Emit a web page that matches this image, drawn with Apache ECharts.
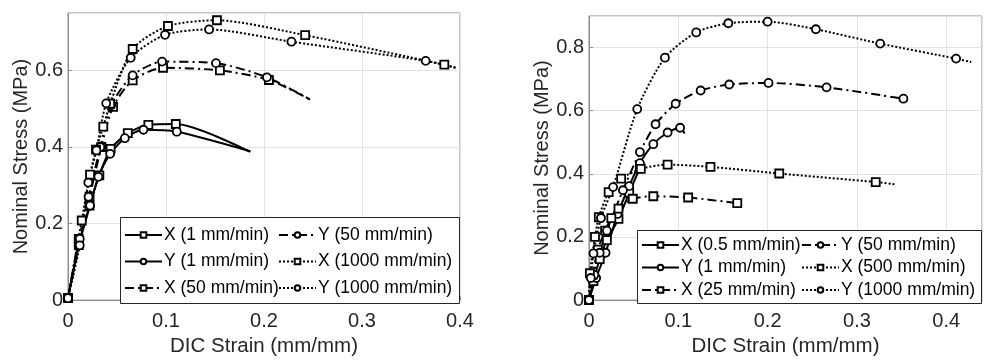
<!DOCTYPE html>
<html>
<head>
<meta charset="utf-8">
<script src="https://cdn.jsdelivr.net/npm/echarts@6/dist/echarts.min.js"></script>
<style>
html,body{margin:0;padding:0;background:#fff;}
#c{width:989px;height:362px;}
</style>
</head>
<body>
<div id="c"></div>
<script>
// ---------- Data (strain mm/mm, stress MPa) ----------
// Left panel
const leftNames = ['X (1 mm/min)', 'Y (1 mm/min)', 'X (50 mm/min)', 'Y (50 mm/min)', 'X (1000 mm/min)', 'Y (1000 mm/min)'];
const leftX1 = [[0,0.005],[0.011,0.144],[0.022,0.247],[0.032,0.326],[0.0435,0.395],[0.061,0.436],[0.082,0.458],[0.110,0.460],[0.186,0.387]];
const leftY1 = [[0,0.005],[0.011,0.143],[0.0225,0.247],[0.031,0.322],[0.043,0.382],[0.058,0.423],[0.077,0.445],[0.111,0.440],[0.186,0.389]];
const leftX50 = [[0,0.005],[0.011,0.16],[0.022,0.27],[0.034,0.40],[0.046,0.505],[0.066,0.574],[0.097,0.607],[0.155,0.600],[0.205,0.575],[0.247,0.524]];
const leftY50 = [[0,0.005],[0.012,0.16],[0.021,0.27],[0.033,0.40],[0.044,0.509],[0.066,0.587],[0.096,0.623],[0.151,0.619],[0.203,0.582],[0.247,0.524]];
const leftX1000 = [[0,0.005],[0.014,0.208],[0.0225,0.328],[0.0286,0.393],[0.036,0.453],[0.043,0.513],[0.066,0.656],[0.102,0.716],[0.152,0.731],[0.242,0.692],[0.384,0.615],[0.397,0.606]];
const leftY1000 = [[0,0.005],[0.012,0.143],[0.0207,0.307],[0.029,0.391],[0.039,0.514],[0.064,0.633],[0.099,0.693],[0.144,0.707],[0.228,0.675],[0.365,0.625],[0.397,0.606]];

// Right panel
const rightNames = ['X (0.5 mm/min)', 'Y (1 mm/min)', 'X (25 mm/min)', 'Y (50 mm/min)', 'X (500 mm/min)', 'Y (1000 mm/min)'];
const rightX05 = [[0,0],[0.005,0.06],[0.012,0.13],[0.02,0.19],[0.033,0.257],[0.045,0.34],[0.057,0.419]];
const rightY1 = [[0,0],[0.008,0.07],[0.0186,0.15],[0.032,0.273],[0.045,0.361],[0.057,0.434],[0.072,0.494],[0.088,0.531],[0.102,0.546],[0.107,0.528]];
const rightX25 = [[0,0],[0.004,0.08],[0.01,0.16],[0.018,0.22],[0.025,0.26],[0.033,0.29],[0.049,0.321],[0.072,0.329],[0.111,0.325],[0.166,0.307]];
const rightY50 = [[0,0],[0.006,0.08],[0.012,0.15],[0.02,0.22],[0.038,0.348],[0.057,0.469],[0.0745,0.557],[0.097,0.622],[0.125,0.664],[0.157,0.683],[0.201,0.688],[0.266,0.674],[0.352,0.638]];
const rightX500 = [[0,0],[0.001,0.085],[0.0067,0.2],[0.011,0.2625],[0.022,0.342],[0.036,0.385],[0.058,0.416],[0.088,0.429],[0.136,0.422],[0.213,0.401],[0.321,0.374],[0.342,0.367]];
const rightY1000 = [[0,0],[0.002,0.07],[0.005,0.148],[0.0134,0.26],[0.027,0.358],[0.054,0.605],[0.085,0.768],[0.120,0.848],[0.156,0.877],[0.200,0.882],[0.254,0.858],[0.326,0.8125],[0.411,0.765],[0.428,0.754]];

// Axis ticks
const leftXTicks = {min: 0, max: 0.4, interval: 0.1, showMax: true};
const leftYTicks = {min: 0, max: 0.75, interval: 0.2, showMax: false};
const rightXTicks = {min: 0, max: 0.44, interval: 0.1, showMax: false};
const rightYTicks = {min: 0, max: 0.9, interval: 0.2, showMax: false};

// ---------- Styles ----------
const FONT = 'Liberation Sans, Arial, sans-serif';
const lineStyleOf = {solid: 'solid', dashdot: [9,4,2,4], dotted: [2,2]};

function mk(name, data, marker, dash, openEnd, gi) {
  const last = data.length - 1;
  const items = data.map(function (d, i) {
    return (openEnd && i === last) ? {value: d, symbol: 'none'} : {value: d};
  });
  return {
    name: name, type: 'line', data: items,
    xAxisIndex: gi, yAxisIndex: gi,
    smooth: 0.25,
    symbol: marker,
    symbolSize: 8,
    itemStyle: {color: '#fff', borderColor: '#000', borderWidth: 1.8},
    lineStyle: {color: '#000', width: 2, type: lineStyleOf[dash]},
    emphasis: {disabled: true},
    animation: false,
    z: 3
  };
}

const series = [
  mk(leftNames[0], leftX1, 'rect', 'solid', true, 0),
  mk(leftNames[1], leftY1, 'circle', 'solid', true, 0),
  mk(leftNames[2], leftX50, 'rect', 'dashdot', true, 0),
  mk(leftNames[3], leftY50, 'circle', 'dashdot', true, 0),
  mk(leftNames[4], leftX1000, 'rect', 'dotted', true, 0),
  mk(leftNames[5], leftY1000, 'circle', 'dotted', true, 0),
  mk(rightNames[0], rightX05, 'rect', 'solid', false, 1),
  mk(rightNames[1], rightY1, 'circle', 'solid', true, 1),
  mk(rightNames[2], rightX25, 'rect', 'dashdot', false, 1),
  mk(rightNames[3], rightY50, 'circle', 'dashdot', false, 1),
  mk(rightNames[4], rightX500, 'rect', 'dotted', true, 1),
  mk(rightNames[5], rightY1000, 'circle', 'dotted', true, 1)
];

function fmt(v) { return v === 0 ? '0' : String(+v.toFixed(2)); }

function xAxis(gi, t) {
  return {
    type: 'value', gridIndex: gi, min: t.min, max: t.max, interval: t.interval,
    name: 'DIC Strain (mm/mm)', nameLocation: 'middle', nameGap: 33,
    nameTextStyle: {fontFamily: FONT, fontSize: 20.5, color: '#262626'},
    axisLine: {show: true, onZero: false, lineStyle: {color: '#8c8c8c', width: 1}},
    axisTick: {show: true, inside: true, length: 4, lineStyle: {color: '#8c8c8c'}},
    axisLabel: {fontFamily: FONT, fontSize: 20, color: '#262626', margin: 11, showMaxLabel: t.showMax, formatter: fmt},
    splitLine: {show: true, lineStyle: {color: '#e3e3e3', width: 1}}
  };
}
function yAxis(gi, t) {
  return {
    type: 'value', gridIndex: gi, min: t.min, max: t.max, interval: t.interval,
    name: 'Nominal Stress (MPa)', nameLocation: 'middle', nameGap: 36, nameRotate: 90,
    nameTextStyle: {fontFamily: FONT, fontSize: 20, color: '#262626'},
    axisLine: {show: true, lineStyle: {color: '#8c8c8c', width: 1}},
    axisTick: {show: true, inside: true, length: 4, lineStyle: {color: '#8c8c8c'}},
    axisLabel: {fontFamily: FONT, fontSize: 20, color: '#262626', margin: 5, showMaxLabel: t.showMax, formatter: fmt},
    splitLine: {show: true, lineStyle: {color: '#e3e3e3', width: 1}}
  };
}

function legend(names, left, top, gap) {
  return {
    data: names, orient: 'vertical', left: left, top: top,
    itemWidth: 37, itemHeight: 7, itemGap: gap, padding: 0,
    selectedMode: false,
    textStyle: {fontFamily: FONT, fontSize: 17.5, color: '#000', lineHeight: 18, padding: [0, 0, 0, -3]}
  };
}

const option = {
  backgroundColor: '#fff',
  animation: false,
  grid: [
    {left: 68, top: 13, width: 392, height: 291, show: true, borderColor: '#8c8c8c', borderWidth: 1, backgroundColor: 'transparent'},
    {left: 589, top: 16, width: 393, height: 288, show: true, borderColor: '#8c8c8c', borderWidth: 1, backgroundColor: 'transparent'}
  ],
  xAxis: [xAxis(0, leftXTicks), xAxis(1, rightXTicks)],
  yAxis: [yAxis(0, leftYTicks), yAxis(1, rightYTicks)],
  legend: [
    legend(leftNames.slice(0, 3), 124, 226, 8.5),
    legend(leftNames.slice(3, 6), 278, 226, 8.5),
    legend(rightNames.slice(0, 3), 641, 236, 4.5),
    legend(rightNames.slice(3, 6), 801, 236, 4.5)
  ],
  graphic: [
    {type: 'rect', shape: {x: 120.5, y: 217.5, width: 339, height: 86}, style: {fill: '#fff', stroke: '#262626', lineWidth: 1}, z: 4, silent: true},
    {type: 'rect', shape: {x: 637.5, y: 230.5, width: 344, height: 73}, style: {fill: '#fff', stroke: '#262626', lineWidth: 1}, z: 4, silent: true}
  ],
  series: series
};

const chart = echarts.init(document.getElementById('c'), null, {renderer: 'canvas'});
chart.setOption(option);
</script>
</body>
</html>
